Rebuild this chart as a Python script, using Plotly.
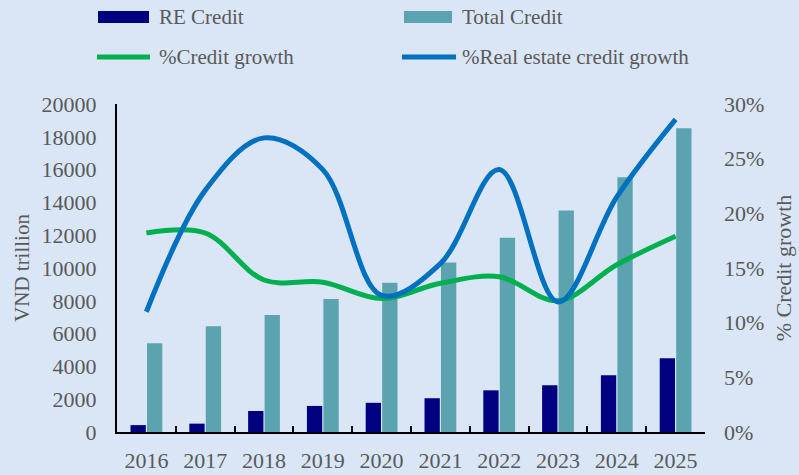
import plotly.graph_objects as go

years = ["2016", "2017", "2018", "2019", "2020", "2021", "2022", "2023", "2024", "2025"]
re_credit = [420, 510, 1280, 1590, 1780, 2060, 2540, 2850, 3460, 4490]
total_credit = [5410, 6450, 7130, 8110, 9100, 10340, 11850, 13500, 15530, 18520]
credit_growth = [0.182, 0.182, 0.139, 0.137, 0.122, 0.136, 0.142, 0.120, 0.153, 0.179]
re_credit_growth = [0.110, 0.221, 0.269, 0.240, 0.125, 0.154, 0.240, 0.119, 0.215, 0.286]

y_ticks = [0, 2000, 4000, 6000, 8000, 10000, 12000, 14000, 16000, 18000, 20000]
y2_ticks = [0, 0.05, 0.10, 0.15, 0.20, 0.25, 0.30]

NAVY = "#000080"
TEAL = "#5BA3AE"
GREEN = "#00B050"
BLUE = "#0070C0"
GREY = "#595959"
FONT = "Liberation Serif"

W, H = 799, 475
L, R, T, B = 117, 94, 104, 43
PW, PH = W - L - R, H - T - B


def px_x(x):
    return (x - L) / PW


def px_y(y):
    return (H - B - y) / PH


fig = go.Figure()
fig.add_trace(go.Bar(x=years, y=re_credit, name="RE Credit", marker_color=NAVY,
                     marker_line_width=0, showlegend=False))
fig.add_trace(go.Bar(x=years, y=total_credit, name="Total Credit", marker_color=TEAL,
                     marker_line_width=0, showlegend=False))
fig.add_trace(go.Scatter(x=years, y=credit_growth, name="%Credit growth", mode="lines",
                         line=dict(color=GREEN, width=5, shape="spline", smoothing=1.0),
                         yaxis="y2", showlegend=False))
fig.add_trace(go.Scatter(x=years, y=re_credit_growth, name="%Real estate credit growth",
                         mode="lines",
                         line=dict(color=BLUE, width=5, shape="spline", smoothing=1.0),
                         yaxis="y2", showlegend=False))

# manual legend (symbols + real text)
legend_items = [
    ("rect", NAVY, 98, 149, 17, "RE Credit", 157),
    ("rect", TEAL, 404, 452, 17, "Total Credit", 460),
    ("line", GREEN, 97, 150, 57, "%Credit growth", 157),
    ("line", BLUE, 402, 456, 57, "%Real estate credit growth", 460),
]
shapes = []
annotations = []
for kind, col, x0, x1, yc, label, tx in legend_items:
    if kind == "rect":
        shapes.append(dict(type="rect", xref="paper", yref="paper",
                           x0=px_x(x0), x1=px_x(x1), y0=px_y(yc + 6), y1=px_y(yc - 6),
                           fillcolor=col, line_width=0))
    else:
        shapes.append(dict(type="line", xref="paper", yref="paper",
                           x0=px_x(x0), x1=px_x(x1), y0=px_y(yc), y1=px_y(yc),
                           line=dict(color=col, width=5)))
    annotations.append(dict(xref="paper", yref="paper", x=px_x(tx), y=px_y(yc),
                            text=label, showarrow=False, xanchor="left", yanchor="middle",
                            font=dict(family=FONT, size=21, color=GREY)))

fig.update_layout(
    width=W, height=H,
    margin=dict(l=L, r=R, t=T, b=B, autoexpand=False),
    paper_bgcolor="#dae6f6",
    plot_bgcolor="rgba(0,0,0,0)",
    barmode="group",
    bargap=0.44,
    bargroupgap=0.07,
    showlegend=False,
    font=dict(family=FONT, size=22, color=GREY),
    shapes=shapes,
    annotations=annotations,
    xaxis=dict(
        type="category",
        showline=True, linecolor="black", linewidth=2,
        ticks="inside", tickson="boundaries", ticklen=6, tickwidth=2, tickcolor="black",
        showgrid=False, zeroline=False,
        tickfont=dict(family=FONT, size=22, color=GREY),
        ticklabelstandoff=8,
    ),
    yaxis=dict(
        range=[0, 20000],
        tickvals=y_ticks,
        ticktext=[str(v) for v in y_ticks],
        showline=True, linecolor="black", linewidth=2,
        showgrid=False, zeroline=False,
        ticks="", ticklabelstandoff=14,
        tickfont=dict(family=FONT, size=22, color=GREY),
        title=dict(text="VND trillion", font=dict(family=FONT, size=21, color=GREY), standoff=6),
        automargin=False,
    ),
    yaxis2=dict(
        overlaying="y", side="right",
        range=[0, 0.30],
        tickvals=y2_ticks,
        tickformat=".0%",
        showline=False, showgrid=False, zeroline=False,
        ticks="", ticklabelstandoff=18,
        tickfont=dict(family=FONT, size=22, color=GREY),
        title=dict(text="% Credit growth", font=dict(family=FONT, size=22, color=GREY), standoff=12),
        automargin=False,
    ),
)

fig.write_html("out.html", config={"displayModeBar": False},
               post_script="document.body.style.margin='0';document.body.style.overflow='hidden';")
